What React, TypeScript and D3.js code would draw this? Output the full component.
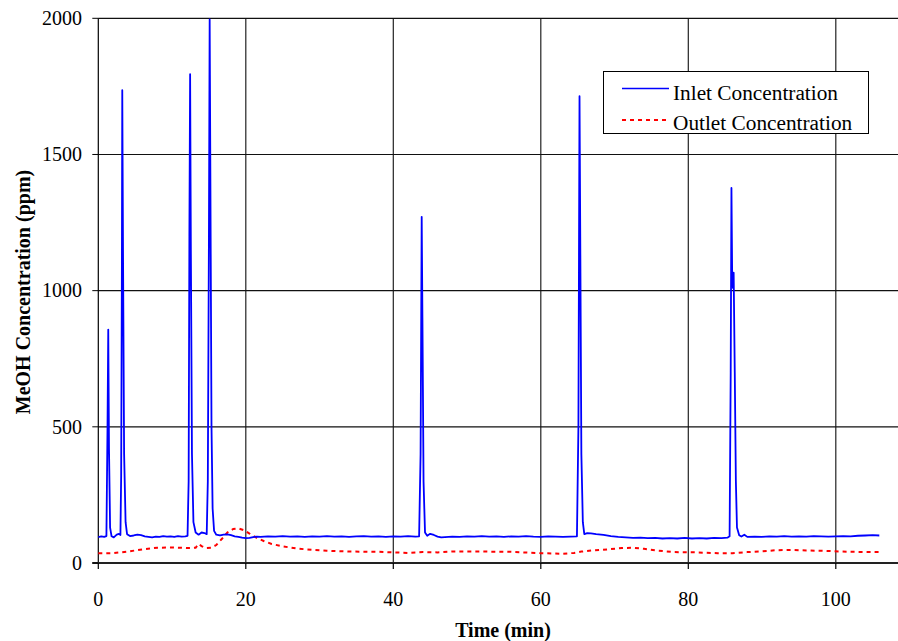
import React from "react";
import * as d3 from "d3";

const xTicks = [0, 20, 40, 60, 80, 100];
const yTicks = [0, 500, 1000, 1500, 2000];
const seriesNames = ["Inlet Concentration", "Outlet Concentration"];

const inlet: [number, number][] = [
  [0, 95], [0.4, 98], [0.8, 96], [1.1, 99], [1.25, 500], [1.35, 857], [1.45, 420], [1.6, 130],
  [1.8, 98], [2.1, 94], [2.5, 104], [2.8, 107], [3.0, 103], [3.1, 320], [3.2, 1100], [3.25, 1736],
  [3.35, 1150], [3.5, 400], [3.7, 150], [3.9, 106], [4.3, 99], [4.8, 101], [5.3, 104], [5.8, 102],
  [6.3, 98], [6.8, 96], [7.3, 94], [7.8, 97], [8.3, 96], [8.8, 99], [9.3, 97], [9.8, 98],
  [10.3, 96], [10.8, 99], [11.3, 97], [11.8, 98], [12.1, 100], [12.25, 300], [12.35, 1200],
  [12.45, 1795], [12.55, 1150], [12.7, 400], [12.9, 150], [13.2, 112], [13.6, 104], [14.0, 112],
  [14.4, 110], [14.7, 106], [14.85, 300], [15.0, 1200], [15.1, 1996], [15.2, 1400], [15.35, 500],
  [15.5, 200], [15.7, 118], [16.0, 104], [16.5, 101], [17.0, 104], [17.5, 105], [18.0, 102],
  [18.5, 98], [19.0, 96], [19.5, 93], [20.0, 91], [20.5, 92], [21.0, 95], [21.5, 97], [22.0, 96],
  [23.0, 98], [24.0, 97], [25.0, 99], [26.0, 97], [27.0, 98], [28.0, 96], [29.0, 98], [30.0, 97],
  [31.0, 99], [32.0, 97], [33.0, 98], [34.0, 96], [35.0, 98], [36.0, 99], [37.0, 97], [38.0, 98],
  [39.0, 96], [40.0, 98], [41.0, 97], [42.0, 99], [43.0, 97], [43.5, 98], [43.7, 400],
  [43.85, 1271], [43.95, 900], [44.1, 300], [44.3, 112], [44.6, 100], [45.0, 107], [45.5, 103],
  [46.0, 97], [46.5, 94], [47.0, 95], [48.0, 97], [49.0, 96], [50.0, 98], [51.0, 97], [52.0, 99],
  [53.0, 97], [54.0, 98], [55.0, 96], [56.0, 98], [57.0, 97], [58.0, 99], [59.0, 97], [60.0, 96],
  [61.0, 98], [62.0, 97], [63.0, 96], [64.0, 97], [64.9, 98], [65.1, 500], [65.25, 1714],
  [65.35, 1200], [65.5, 400], [65.7, 150], [65.9, 106], [66.3, 110], [66.8, 109], [67.5, 106],
  [68.5, 103], [69.5, 99], [70.5, 96], [71.5, 94], [72.5, 92], [73.5, 93], [74.5, 91], [75.5, 92],
  [76.5, 90], [77.5, 91], [78.5, 90], [79.5, 92], [80.5, 90], [81.5, 91], [82.5, 90], [83.5, 92],
  [84.5, 91], [85.3, 93], [85.6, 98], [85.75, 700], [85.85, 1377], [85.95, 1050], [86.05, 1010],
  [86.15, 1066], [86.3, 700], [86.45, 300], [86.6, 130], [86.9, 102], [87.2, 97], [87.6, 104],
  [88.0, 96], [89.0, 97], [90.0, 96], [91.0, 98], [92.0, 97], [93.0, 99], [94.0, 97], [95.0, 98],
  [96.0, 97], [97.0, 99], [98.0, 98], [99.0, 97], [100.0, 98], [101.0, 99], [102.0, 98],
  [103.0, 100], [104.0, 101], [105.0, 102], [105.9, 101],
];

const outlet: [number, number][] = [
  [0, 36], [2, 36], [4, 42], [6, 50], [8, 56], [10, 57], [12, 55], [13.2, 56], [13.6, 70],
  [14, 62], [14.5, 55], [15.3, 56], [16, 66], [16.8, 90], [17.5, 112], [18.3, 125], [19, 127],
  [19.8, 120], [20.5, 108], [21.5, 92], [22.5, 80], [23.5, 70], [25, 61], [27, 53], [29, 48],
  [31, 45], [34, 42], [38, 41], [42, 37], [44, 40], [46, 39], [48, 42], [52, 42], [56, 41],
  [60, 36], [63, 34], [64.5, 37], [65.5, 42], [67, 46], [69, 50], [71, 55], [72.5, 56], [74, 52],
  [76, 45], [78, 40], [81, 39], [84, 36], [86, 36], [88, 40], [90, 43], [92, 47], [94, 48],
  [96, 46], [99, 44], [102, 41], [106, 40],
];

const W = 898;
const H = 641;
const left = 98.3;
const top = 18.3;
const bottom = 563;
const FONT = "'Liberation Serif', 'Times New Roman', serif";

export default function App() {
  const x = d3.scaleLinear().domain([0, 20]).range([left, left + 147.5]);
  const y = d3.scaleLinear().domain([0, 2000]).range([bottom, top]);
  const line = d3
    .line<[number, number]>()
    .x((d) => x(d[0]))
    .y((d) => y(d[1]));

  return (
    <svg
      width={W}
      height={H}
      style={{ position: "absolute", left: 0, top: 0, background: "#fff" }}
      fontFamily={FONT}
    >
      <rect x={0} y={0} width={W} height={H} fill="#fff" />
      {/* gridlines */}
      {xTicks.filter((t) => t > 0).map((t) => (
        <line key={"gx" + t} x1={x(t)} x2={x(t)} y1={top} y2={bottom} stroke="#222" strokeWidth={1.2} />
      ))}
      {yTicks.filter((t) => t > 0).map((t) => (
        <line key={"gy" + t} x1={left} x2={W} y1={y(t)} y2={y(t)} stroke="#111" strokeWidth={1.2} />
      ))}
      {/* axes */}
      <line x1={left} x2={left} y1={top} y2={bottom} stroke="#000" strokeWidth={1.2} />
      <line x1={left - 6} x2={W} y1={bottom} y2={bottom} stroke="#222" strokeWidth={2} />
      {yTicks.map((t) => (
        <g key={"yt" + t}>
          <line x1={left - 6} x2={left} y1={y(t)} y2={y(t)} stroke="#000" strokeWidth={1} />
          <text x={82} y={y(t)} dy="0.34em" textAnchor="end" fontSize={20} fill="#000">
            {t}
          </text>
        </g>
      ))}
      {xTicks.map((t) => (
        <g key={"xt" + t}>
          <line x1={x(t)} x2={x(t)} y1={bottom} y2={bottom + 6} stroke="#000" strokeWidth={1.2} />
          <text x={x(t)} y={606} textAnchor="middle" fontSize={20} fill="#000">
            {t}
          </text>
        </g>
      ))}
      {/* series */}
      <path d={line(outlet) || ""} fill="none" stroke="#ff0000" strokeWidth={2} strokeDasharray="4,4" />
      <path d={line(inlet) || ""} fill="none" stroke="#0000ff" strokeWidth={1.8} strokeLinejoin="round" />
      {/* titles */}
      <text x={503} y={637} textAnchor="middle" fontSize={20} fontWeight="bold" fill="#000">
        Time (min)
      </text>
      <text
        transform={`translate(30, 292) rotate(-90)`}
        textAnchor="middle"
        fontSize={20}
        fontWeight="bold"
        fill="#000"
      >
        MeOH Concentration (ppm)
      </text>
      {/* legend */}
      <rect x={603.5} y={71.5} width={265} height={62} fill="#fff" stroke="#000" strokeWidth={1} />
      <line x1={622} x2={669} y1={88.5} y2={88.5} stroke="#0000ff" strokeWidth={1.5} />
      <line x1={622} x2={669} y1={120} y2={120} stroke="#ff0000" strokeWidth={2} strokeDasharray="4,4" />
      <text x={673} y={99.5} fontSize={21.3} fill="#000">
        {seriesNames[0]}
      </text>
      <text x={673} y={130} fontSize={21.3} fill="#000">
        {seriesNames[1]}
      </text>
    </svg>
  );
}
